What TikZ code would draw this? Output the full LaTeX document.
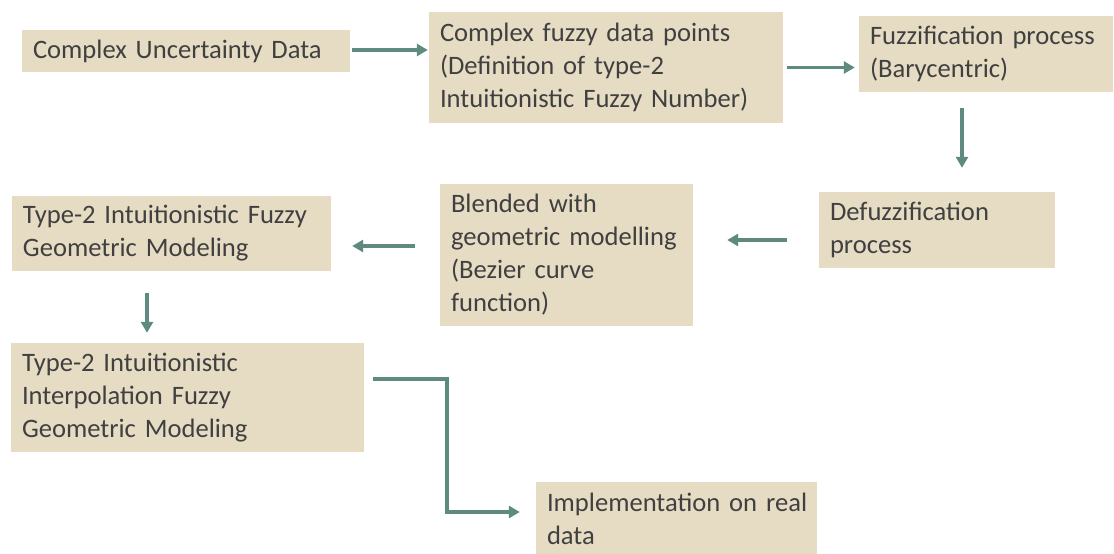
\documentclass[tikz,border=0pt]{standalone}
\usepackage{fontspec}
\setmainfont{Carlito}
\usetikzlibrary{arrows.meta}
\definecolor{boxfill}{RGB}{230,220,196}
\definecolor{txtcol}{RGB}{64,64,64}
\definecolor{arrcol}{RGB}{94,138,128}
\begin{document}
\begin{tikzpicture}[x=1pt,y=-1pt,
  box/.style={rectangle, fill=boxfill, text=txtcol, inner xsep=11pt, inner ysep=0pt,
    align=left, font=\fontsize{26.6}{33}\selectfont, anchor=center},
  conn/.style={draw=arrcol, line width=3.5pt, -{Triangle[length=11pt,width=12pt]}}]
\useasboundingbox (0,0) rectangle (1114,554);
\node[box, minimum width=328pt, minimum height=42pt, text width=306pt] (b1) at (186,51) {Complex~Uncertainty~Data};
\node[box, minimum width=354pt, minimum height=111pt, text width=332pt] (b2) at (606,67.5) {Complex~fuzzy~data~points\\(Definition~of~type-2\\Intuitionistic~Fuzzy~Number)};
\node[box, minimum width=254pt, minimum height=76pt, text width=232pt] (b3) at (986,54) {Fuzzification~process\\(Barycentric)};
\node[box, minimum width=236pt, minimum height=76pt, text width=214pt] (b4) at (937,230) {Defuzzification\\process};
\node[box, minimum width=253pt, minimum height=142pt, text width=231pt] (b5) at (566.5,255) {Blended~with\\geometric~modelling\\(Bezier~curve\\function)};
\node[box, minimum width=319pt, minimum height=75pt, text width=297pt] (b6) at (171.5,233.5) {Type-2~Intuitionistic~Fuzzy\\Geometric~Modeling};
\node[box, minimum width=353pt, minimum height=109pt, text width=331pt] (b7) at (187.5,397.5) {Type-2~Intuitionistic\\Interpolation~Fuzzy\\Geometric~Modeling};
\node[box, minimum width=281pt, minimum height=74pt, text width=259pt] (b8) at (676.5,519) {Implementation~on~real\\data};

\draw[conn, shorten <=2pt, shorten >=1pt] ([yshift=1pt]b1.east) -- ([yshift=1pt]b1.east -| b2.west);
\draw[conn, shorten <=4pt, shorten >=4pt] (b2.east) -- (b2.east -| b3.west);
\draw[conn, shorten <=16pt, shorten >=24pt] ([xshift=-24pt]b3.south) -- ([xshift=-24pt]b3.south |- b4.north);
\draw[conn, shorten <=32pt, shorten >=34pt] ([yshift=-10pt]b4.west) -- ([yshift=-10pt]b4.west -| b5.east);
\draw[conn, shorten <=25pt, shorten >=21pt] ([yshift=9pt]b5.west) -- ([yshift=9pt]b5.west -| b6.east);
\draw[conn, shorten <=22pt, shorten >=10pt] ([xshift=-24.5pt]b6.south) -- ([xshift=-24.5pt]b6.south |- b7.north);
\coordinate (k1) at (447,379);
\draw[conn, shorten <=9pt, shorten >=16pt] ([yshift=18.5pt]b7.east) -- (k1) |- ([yshift=7pt]b8.west);
\end{tikzpicture}
\end{document}
